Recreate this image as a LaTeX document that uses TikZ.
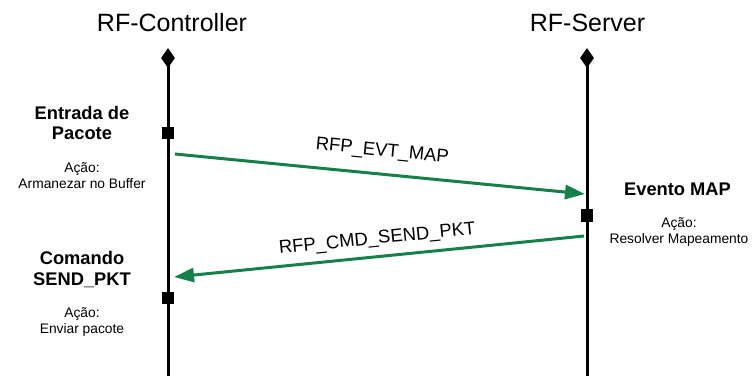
\documentclass[tikz,border=0pt]{standalone}
\usepackage{fontspec}
\setmainfont{Liberation Sans}
\usetikzlibrary{shapes.geometric,arrows.meta}
\usetikzlibrary{positioning}

\definecolor{msggreen}{RGB}{22,128,74}

\tikzset{
    lifeline/.style={line width=3pt, black},
    startmark/.style={diamond, fill=black, inner sep=0pt, minimum width=14pt, minimum height=20pt, aspect=0.7},
    eventmark/.style={rectangle, fill=black, inner sep=0pt, minimum size=12.5pt},
    message/.style={line width=3pt, msggreen, -{Triangle[length=20pt, width=14pt]}},
    title/.style={font=\fontsize{25}{28}\selectfont},
    msglabel/.style={text=black, font=\fontsize{18.5}{21}\selectfont, sloped, inner sep=0pt},
    eventname/.style={align=center, font=\fontsize{18.3}{20.5}\selectfont\bfseries},
    action/.style={align=center, font=\fontsize{13.8}{16}\selectfont}
}

\begin{document}
\begin{tikzpicture}[x=1pt, y=-1pt]

    \useasboundingbox (0,0) rectangle (755,376);

    % RF-Controller
    \node[title] (ctl) at (172,23) {RF-Controller};
    \coordinate (ctlhead) at (168,58);
    \coordinate (ctlbot) at (168,376);
    \draw[lifeline] (ctlhead) -- (ctlbot);
    \node[startmark] (ctltop) at (ctlhead) {};

    % RF-Server
    \node[title] (srv) at (587.5,23) {RF-Server};
    \coordinate (srvhead) at (587,58);
    \coordinate (srvbot) at (587,376);
    \draw[lifeline] (srvhead) -- (srvbot);
    \node[startmark] (srvtop) at (srvhead) {};

    % ================================
    % Events

    \node[eventmark] (ctlin) at (168,133) {};
    \node[eventmark] (srvmap) at (587,215.5) {};
    \node[eventmark] (ctlsend) at (168,298) {};

    % Entrada de Pacote
    \node[eventname] (inname) at (82,123) {Entrada de\\Pacote};
    \node[action] (inaction) at (82,176) {Ação:\\Armanezar no Buffer};

    % Evento MAP
    \node[eventname] (mapname) at (677.5,189) {Evento MAP};
    \node[action] (mapaction) at (679,232) {Ação:\\Resolver Mapeamento};

    % Comando SEND_PKT
    \node[eventname] (sendname) at (82,269.5) {Comando\\SEND\_PKT};
    \node[action] (sendaction) at (82,321.5) {Ação:\\Enviar pacote};

    % ================================
    % Messages

    \coordinate (evtfrom) at (175,154);
    \coordinate (evtto) at (585,194);
    \draw[message] (evtfrom) -- node[msglabel, above=13pt] (evtlabel) {RFP\_EVT\_MAP} (evtto);

    \coordinate (cmdfrom) at (584,236);
    \coordinate (cmdto) at (174,277);
    \draw[message] (cmdfrom) -- node[msglabel, above=7.5pt] (cmdlabel) {RFP\_CMD\_SEND\_PKT} (cmdto);

\end{tikzpicture}
\end{document}
